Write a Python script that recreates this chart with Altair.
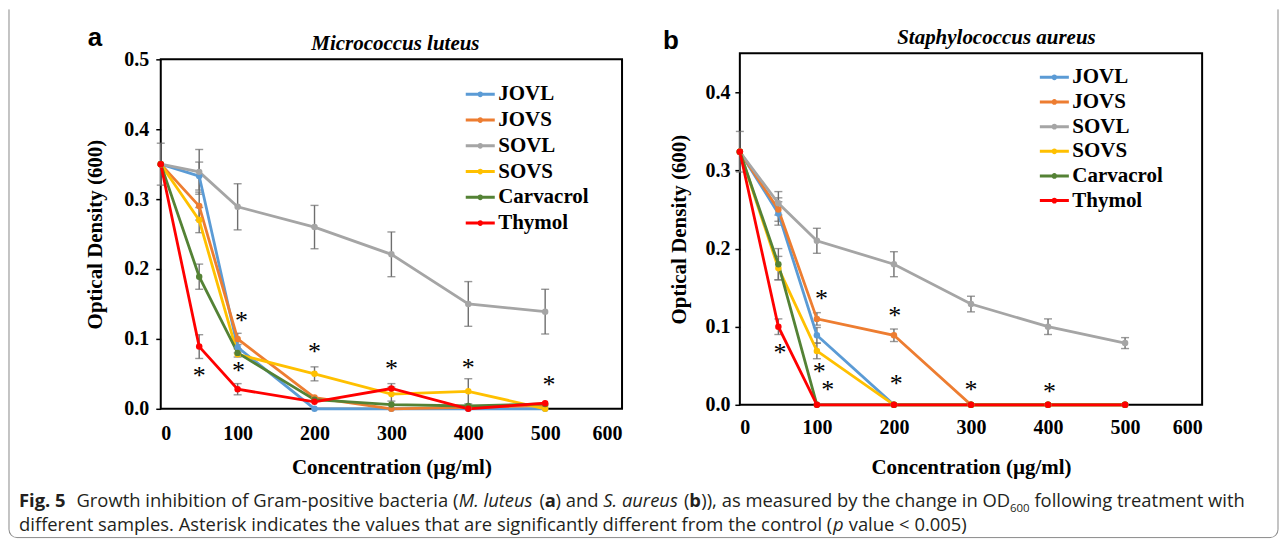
import math
import altair as alt
import pandas as pd

# ---------------- data ----------------
conc = [0, 50, 100, 200, 300, 400, 500]
series = ["JOVL", "JOVS", "SOVL", "SOVS", "Carvacrol", "Thymol"]
colors = ["#5B9BD5", "#ED7D31", "#A5A5A5", "#FFC000", "#548235", "#FF0000"]

# Micrococcus luteus (panel a)
ml_jovl = [0.350, 0.333, 0.088, 0.000, 0.000, 0.000, 0.000]
ml_jovs = [0.350, 0.290, 0.100, 0.016, 0.000, 0.002, 0.005]
ml_sovl = [0.350, 0.339, 0.289, 0.260, 0.221, 0.150, 0.139]
ml_sovs = [0.350, 0.270, 0.078, 0.050, 0.021, 0.025, 0.000]
ml_carv = [0.350, 0.189, 0.080, 0.013, 0.006, 0.004, 0.007]
ml_thym = [0.350, 0.089, 0.028, 0.010, 0.029, 0.000, 0.008]

ml_jovl_err = [0.000, 0.020, 0.008, 0.000, 0.000, 0.000, 0.000]
ml_jovs_err = [0.000, 0.020, 0.008, 0.000, 0.000, 0.000, 0.000]
ml_sovl_err = [0.030, 0.032, 0.033, 0.031, 0.032, 0.032, 0.032]
ml_sovs_err = [0.000, 0.018, 0.000, 0.010, 0.010, 0.018, 0.000]
ml_carv_err = [0.000, 0.018, 0.006, 0.000, 0.000, 0.000, 0.000]
ml_thym_err = [0.000, 0.017, 0.008, 0.000, 0.007, 0.000, 0.000]

ml_star_x = [50, 105, 101, 200, 300, 400, 505]
ml_star_y = [0.059, 0.137, 0.066, 0.093, 0.069, 0.070, 0.046]

# Staphylococcus aureus (panel b)
sa_jovl = [0.324, 0.245, 0.089, 0.000, 0.000, 0.000, 0.000]
sa_jovs = [0.324, 0.250, 0.110, 0.089, 0.000, 0.000, 0.000]
sa_sovl = [0.324, 0.258, 0.210, 0.180, 0.129, 0.100, 0.079]
sa_sovs = [0.324, 0.175, 0.069, 0.000, 0.000, 0.000, 0.000]
sa_carv = [0.324, 0.180, 0.000, 0.000, 0.000, 0.000, 0.000]
sa_thym = [0.324, 0.100, 0.000, 0.000, 0.000, 0.000, 0.000]

sa_jovl_err = [0.000, 0.015, 0.010, 0.000, 0.000, 0.000, 0.000]
sa_jovs_err = [0.000, 0.015, 0.008, 0.008, 0.000, 0.000, 0.000]
sa_sovl_err = [0.026, 0.015, 0.016, 0.016, 0.010, 0.010, 0.007]
sa_sovs_err = [0.000, 0.015, 0.010, 0.000, 0.000, 0.000, 0.000]
sa_carv_err = [0.000, 0.020, 0.000, 0.000, 0.000, 0.000, 0.000]
sa_thym_err = [0.000, 0.010, 0.000, 0.000, 0.000, 0.000, 0.000]

sa_star_x = [52, 106, 103, 114, 201, 203, 300, 402]
sa_star_y = [0.077, 0.146, 0.052, 0.029, 0.124, 0.037, 0.029, 0.027]

x_ticks = [0, 100, 200, 300, 400, 500, 600]
ml_y_ticks = [0.0, 0.1, 0.2, 0.3, 0.4, 0.5]
sa_y_ticks = [0.0, 0.1, 0.2, 0.3, 0.4]

# caption runs: (text, style)  style: n=normal, b=bold, i=italic, s=subscript
caption_line1 = [
    ("Fig. 5", "b"), ("  ", "n"),
    ("Growth inhibition of Gram-positive bacteria (", "n"), ("M. luteus", "i"),
    (" (", "n"), ("a", "b"), (") and ", "n"), ("S. aureus", "i"), (" (", "n"),
    ("b", "b"), (")), as measured by the change in OD", "n"), ("600", "s"),
    (" following treatment with", "n"),
]
caption_line2 = [
    ("different samples. Asterisk indicates the values that are significantly "
     "different from the control (", "n"), ("p", "i"), (" value < 0.005)", "n"),
]

# ---------------- helpers ----------------
SERIF = "Liberation Serif"
SANS = "Open Sans"
GRAY_ERR = "#6e6e6e"
BORDER = "#8a8a8a"

# approximate Open Sans advance widths (em) for laying out caption runs
_OS = {" ": .26, "a": .556, "b": .613, "c": .48, "d": .613, "e": .561, "f": .339,
       "g": .548, "h": .614, "i": .253, "j": .253, "k": .525, "l": .253, "m": .93,
       "n": .614, "o": .604, "p": .613, "q": .613, "r": .408, "s": .477, "t": .353,
       "u": .614, "v": .501, "w": .778, "x": .524, "y": .502, "z": .477,
       "A": .633, "D": .729, "F": .556, "G": .728, "M": .903, "O": .781, "S": .551,
       "(": .284, ")": .284, ".": .266, ",": .245, "-": .322, "<": .572, "/": .367}


def em_width(text, style):
    w = sum(_OS.get(ch, .572) for ch in text)
    if style == "b":
        w *= 1.06
    elif style == "i":
        w *= 0.96
    elif style == "s":
        w *= 0.62
    return w


def long_df(vals, errs):
    rows = []
    for s, v_list, e_list in zip(series, vals, errs):
        for c, v, e in zip(conc, v_list, e_list):
            rows.append(dict(conc=c, series=s, od=v, lo=max(v - e, 0), hi=v + e, err=e))
    return pd.DataFrame(rows)


def one(text=""):
    return pd.DataFrame({"t": [text]})


def panel(df, star_x, star_y, ymax, yvals, yrange, legend_x, legend_y, row_pad,
          y_label_pad, y_title_pad, x_label_pad, x_title_pad):
    xscale = alt.Scale(domain=[0, 600], nice=False)
    if yrange:
        yscale = alt.Scale(domain=[0, ymax], nice=False, zero=True, range=yrange)
    else:
        yscale = alt.Scale(domain=[0, ymax], nice=False, zero=True)
    xaxis = alt.Axis(values=x_ticks, format="d", title="Concentration (µg/ml)",
                     labelFont=SERIF, labelFontWeight="bold", labelFontSize=20,
                     labelColor="black", titleFont=SERIF, titleFontWeight="bold",
                     titleFontSize=21, titleColor="black", domain=False, ticks=False,
                     tickSize=0, grid=False, labelPadding=x_label_pad,
                     titlePadding=x_title_pad)
    yaxis = alt.Axis(values=yvals, format=".1f", title="Optical Density (600)",
                     labelFont=SERIF, labelFontWeight="bold", labelFontSize=20,
                     labelColor="black", titleFont=SERIF, titleFontWeight="bold",
                     titleFontSize=21, titleColor="black", domain=False, ticks=True,
                     tickColor="black", tickSize=5, tickWidth=1.5, grid=False,
                     labelPadding=y_label_pad, titlePadding=y_title_pad)
    legend = alt.Legend(title=None, orient="none", legendX=legend_x, legendY=legend_y,
                        symbolType="M-1.6,0L1.6,0M-0.15,0a0.15,0.15 0 1,0 0.3,0a0.15,0.15 0 1,0 -0.3,0",
                        symbolSize=330, symbolStrokeWidth=3, labelFont=SERIF,
                        labelFontWeight="bold", labelFontSize=21, labelColor="black",
                        labelOffset=7, rowPadding=row_pad, padding=0)
    color = alt.Color("series:N", scale=alt.Scale(domain=series, range=colors), legend=legend)

    frame_df = pd.DataFrame({"x0": [0], "x1": [600], "y0": [0.0], "y1": [max(yvals) if yrange else ymax]})
    frame = alt.Chart(frame_df).mark_rect(fillOpacity=0, stroke="black", strokeWidth=2).encode(
        x=alt.X("x0:Q", scale=xscale, axis=xaxis), x2="x1:Q",
        y=alt.Y("y0:Q", scale=yscale, axis=yaxis), y2="y1:Q")

    err_df = df[df["err"] > 0]
    err_rule = alt.Chart(err_df).mark_rule(color=GRAY_ERR, strokeWidth=1.4).encode(
        x=alt.X("conc:Q", scale=xscale, axis=xaxis),
        y=alt.Y("lo:Q", scale=yscale, axis=yaxis), y2="hi:Q")
    cap_hi = alt.Chart(err_df).mark_tick(color=GRAY_ERR, orient="horizontal", size=8, thickness=1.4).encode(
        x=alt.X("conc:Q", scale=xscale, axis=xaxis), y=alt.Y("hi:Q", scale=yscale, axis=yaxis))
    cap_lo = alt.Chart(err_df[err_df["lo"] > 0.002]).mark_tick(color=GRAY_ERR, orient="horizontal", size=8, thickness=1.4).encode(
        x=alt.X("conc:Q", scale=xscale, axis=xaxis), y=alt.Y("lo:Q", scale=yscale, axis=yaxis))

    lines = alt.Chart(df).mark_line(strokeWidth=2.8).encode(
        x=alt.X("conc:Q", scale=xscale, axis=xaxis),
        y=alt.Y("od:Q", scale=yscale, axis=yaxis),
        color=color, detail="series:N")
    points = alt.Chart(df).mark_circle(size=42, opacity=1).encode(
        x=alt.X("conc:Q", scale=xscale, axis=xaxis),
        y=alt.Y("od:Q", scale=yscale, axis=yaxis),
        color=color)

    stars = alt.Chart(pd.DataFrame({"sx": star_x, "sy": star_y})).mark_text(
        text="*", font=SERIF, fontSize=26, dy=8, color="black").encode(
        x=alt.X("sx:Q", scale=xscale, axis=xaxis), y=alt.Y("sy:Q", scale=yscale, axis=yaxis))

    return [frame, err_rule, cap_hi, cap_lo, lines, points, stars]


def label(text, x, y, font, size, weight="normal", style="normal", align="left",
          color="black", baseline="alphabetic"):
    return alt.Chart(one(text)).mark_text(font=font, fontSize=size, fontWeight=weight,
                                          fontStyle=style, align=align, baseline=baseline,
                                          color=color).encode(
        text="t:N", x=alt.value(x), y=alt.value(y))


ml_df = long_df([ml_jovl, ml_jovs, ml_sovl, ml_sovs, ml_carv, ml_thym],
                [ml_jovl_err, ml_jovs_err, ml_sovl_err, ml_sovs_err, ml_carv_err, ml_thym_err])
sa_df = long_df([sa_jovl, sa_jovs, sa_sovl, sa_sovs, sa_carv, sa_thym],
                [sa_jovl_err, sa_jovs_err, sa_sovl_err, sa_sovs_err, sa_carv_err, sa_thym_err])

# left panel view origin = page (160, 52)
OX, OY = 160, 52
left_layers = panel(ml_df, ml_star_x, ml_star_y, 0.5, ml_y_ticks, [356, 6],
                    309, 30, 4.8, 7, 18, 15, 13)
left_layers += [
    label("a", -73, -7, "Liberation Sans", 26, weight="bold"),
    label("Micrococcus luteus", 235, -3, SERIF, 21, weight="bold", style="italic", align="center"),
]

# figure border (rounded corners at bottom)
L, R, T, B, RAD = -152, 1119, -44, 485, 8
for xv in (L, R):
    left_layers.append(alt.Chart(one()).mark_rule(color=BORDER, strokeWidth=1).encode(
        x=alt.value(xv), y=alt.value(T), y2=alt.value(B - RAD)))
left_layers.append(alt.Chart(one()).mark_rule(color=BORDER, strokeWidth=1).encode(
    x=alt.value(L + RAD), x2=alt.value(R - RAD), y=alt.value(B)))
left_layers.append(alt.Chart(one()).mark_arc(color=BORDER).encode(
    x=alt.value(L + RAD), y=alt.value(B - RAD), theta=alt.value(math.pi),
    theta2=alt.value(1.5 * math.pi), radius=alt.value(RAD + 0.5), radius2=alt.value(RAD - 0.5)))
left_layers.append(alt.Chart(one()).mark_arc(color=BORDER).encode(
    x=alt.value(R - RAD), y=alt.value(B - RAD), theta=alt.value(0.5 * math.pi),
    theta2=alt.value(math.pi), radius=alt.value(RAD + 0.5), radius2=alt.value(RAD - 0.5)))

# caption: runs laid out left to right on page coords
CAP = "#231f20"
CAP_LEFT = 18
line1_em = sum(em_width(t, s) for t, s in caption_line1)
line2_em = sum(em_width(t, s) for t, s in caption_line2)
cap_size = ((1262 - CAP_LEFT) / line1_em + (955 - CAP_LEFT) / line2_em) / 2


def caption_layers(runs, baseline_y):
    out = []
    xpos = CAP_LEFT
    for text, style in runs:
        w = em_width(text, style) * cap_size
        body = text.strip()
        if body:
            lead = len(text) - len(text.lstrip())
            shift = em_width(" " * lead, style) * cap_size
            size = cap_size * (0.62 if style == "s" else 1)
            dy = 5 if style == "s" else 0
            out.append(label(body, xpos + shift - OX, baseline_y - OY + dy, SANS, size,
                             weight="bold" if style == "b" else "normal",
                             style="italic" if style == "i" else "normal", color=CAP))
        xpos += w
    return out


left_layers += caption_layers(caption_line1, 506)
left_layers += caption_layers(caption_line2, 530)

left = alt.layer(*left_layers).properties(width=462, height=356)

# right panel view origin = page (740, 52)
right_layers = panel(sa_df, sa_star_x, sa_star_y, 0.45, sa_y_ticks, None,
                     304, 13, 3.7, 5, 15, 13, 19)
right_layers += [
    label("b", -77, -4, "Liberation Sans", 26, weight="bold"),
    label("Staphylococcus aureus", 257, -9, SERIF, 21, weight="bold", style="italic", align="center"),
]
right = alt.layer(*right_layers).properties(width=463, height=352)

chart = alt.hconcat(left, right, spacing=118, bounds="flush").resolve_scale(
    color="independent", x="independent", y="independent").properties(
    padding=0, background="white").configure_view(stroke=None)

chart.save("out.html", embed_options={"renderer": "svg", "actions": False})
